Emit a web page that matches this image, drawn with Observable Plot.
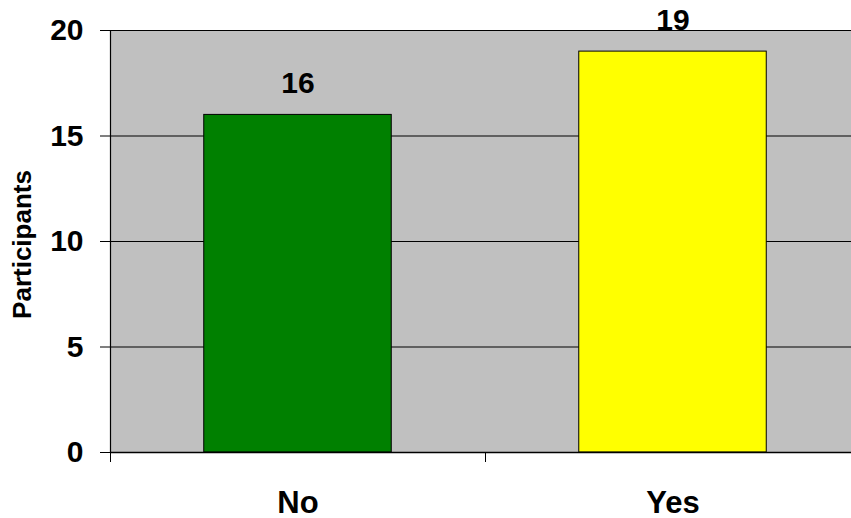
<!DOCTYPE html>
<html>
<head>
<meta charset="utf-8">
<script src="https://cdn.jsdelivr.net/npm/d3@7"></script>
<script src="https://cdn.jsdelivr.net/npm/@observablehq/plot@0.6"></script>
<style>
  html, body { margin: 0; padding: 0; background: #fff; overflow: hidden; width: 851px; height: 518px; }
  #chart { width: 860px; }
  #chart svg { display: block; max-width: none !important; font-family: "Liberation Sans", Arial, sans-serif; }
</style>
</head>
<body>
<div id="chart"></div>
<script>
const categories = ["No", "Yes"];
const values = [16, 19];
const barColors = ["#008000", "#FFFF00"];
const yTicks = [0, 5, 10, 15, 20];
const yLabel = "Participants";

const data = categories.map((c, i) => ({i, category: c, value: values[i], color: barColors[i]}));
const boundaries = d3.range(categories.length + 1);

const chart = Plot.plot({
  width: 860,
  height: 518,
  marginLeft: 110,
  marginRight: 0,
  marginTop: 30,
  marginBottom: 66,
  style: {fontFamily: '"Liberation Sans", Arial, sans-serif', background: "white", maxWidth: "none"},
  x: {domain: [0, categories.length]},
  y: {domain: [0, 20]},
  marks: [
    Plot.frame({fill: "#C0C0C0", stroke: null}),
    Plot.gridY(yTicks.filter(d => d > 0), {stroke: "black", strokeOpacity: 1, strokeWidth: 1.2}),
    Plot.rectY(data, {
      x1: d => d.i + 0.25,
      x2: d => d.i + 0.75,
      y: "value",
      fill: "color",
      stroke: "black",
      strokeWidth: 1,
      inset: 0
    }),
    Plot.ruleX([0], {stroke: "black", strokeWidth: 1.2}),
    Plot.ruleY([0], {stroke: "black", strokeWidth: 1.5}),
    Plot.axisY({
      ticks: yTicks,
      tickSize: 10,
      tickPadding: 17,
      fontSize: 30,
      fontWeight: "bold",
      label: null,
      stroke: "black",
      color: "black"
    }),
    Plot.axisX({
      ticks: boundaries,
      tickSize: 10,
      tickFormat: () => "",
      label: null,
      stroke: "black"
    }),
    Plot.text(data, {
      x: d => d.i + 0.5,
      y: 0,
      dy: 60,
      lineAnchor: "bottom",
      text: "category",
      fontSize: 31,
      fontWeight: "bold",
      fill: "black"
    }),
    Plot.text(data, {
      x: d => d.i + 0.5,
      y: "value",
      dy: -22,
      lineAnchor: "bottom",
      text: d => String(d.value),
      fontSize: 30,
      fontWeight: "bold",
      fill: "black"
    }),
    Plot.text([yLabel], {
      frameAnchor: "left",
      rotate: -90,
      dx: -88,
      dy: 3,
      text: d => d,
      fontSize: 26,
      fontWeight: "bold",
      fill: "black",
      lineAnchor: "middle",
      textAnchor: "middle"
    })
  ]
});
document.getElementById("chart").appendChild(chart);
</script>
</body>
</html>
